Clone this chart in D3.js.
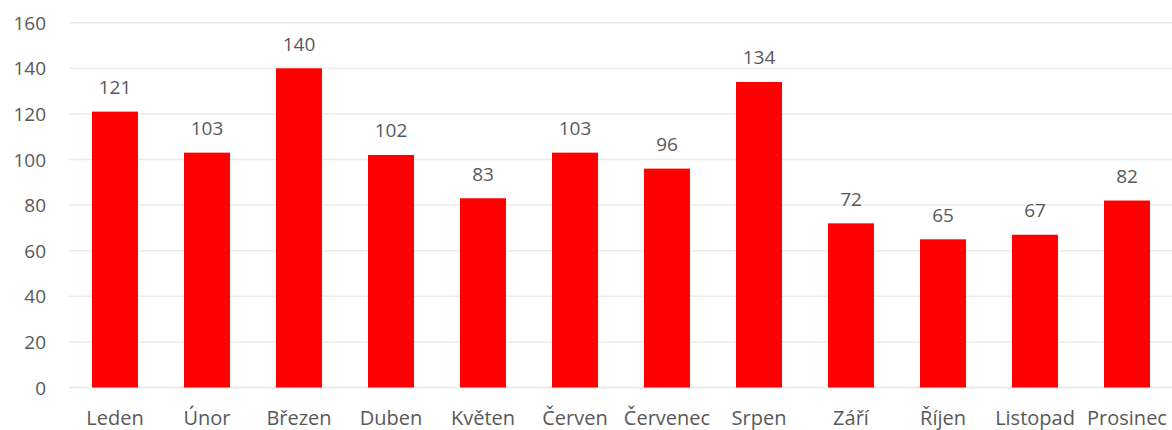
<!DOCTYPE html>
<html><head><meta charset="utf-8">
<script src="https://cdn.jsdelivr.net/npm/d3@7"></script>
<style>body{margin:0;background:#fff;}svg text{font-family:"Open Sans","Noto Sans",sans-serif;fill:#595959;}</style>
</head><body><svg id="c" width="1172" height="430"></svg>
<script>
const categories = ["Leden","Únor","Březen","Duben","Květen","Červen","Červenec","Srpen","Září","Říjen","Listopad","Prosinec"];
const values = [121,103,140,102,83,103,96,134,72,65,67,82];
const yTicks = [0,20,40,60,80,100,120,140,160];

(function(){
const svg = d3.select("#c");
const mLeft = 69, mRight = 1173, mTop = 22.7, mBottom = 387.5;
const fs = "19px";
const x = d3.scaleBand().domain(categories).range([mLeft, mRight]).paddingInner(0.5).paddingOuter(0.25);
const y = d3.scaleLinear().domain([0,160]).range([mBottom, mTop]);

svg.append("g").selectAll("line").data(yTicks).join("line")
  .attr("x1", mLeft).attr("x2", 1172)
  .attr("y1", d => y(d)).attr("y2", d => y(d))
  .attr("stroke", d => d===0 ? "#f4e4dc" : "#ececec").attr("stroke-width", 1.5);

const ya = svg.append("g").attr("transform", `translate(${mLeft},0)`)
  .call(d3.axisLeft(y).tickValues(yTicks).tickSize(0).tickPadding(23));
ya.select(".domain").remove();
ya.selectAll("text").style("font-size",fs).attr("fill","#595959").attr("dy","0.35em");

svg.append("g").selectAll("text").data(values).join("text")
  .attr("x", (d,i) => x(categories[i]) + x.bandwidth()/2)
  .attr("y", d => y(d) - 17.5)
  .attr("text-anchor","middle").style("font-size",fs).text(d => d);

svg.append("g").selectAll("rect").data(values).join("rect")
  .attr("x", (d,i) => x(categories[i])).attr("width", x.bandwidth())
  .attr("y", d => y(d)).attr("height", d => y(0) - y(d))
  .attr("fill", "#ff0000");

const xa = svg.append("g").attr("transform", `translate(0,${mBottom})`)
  .call(d3.axisBottom(x).tickSize(0).tickPadding(0));
xa.select(".domain").remove();
xa.selectAll("text").style("font-size","20px").attr("fill","#595959").attr("dy",null).attr("y", 37.5);
})();
</script></body></html>
